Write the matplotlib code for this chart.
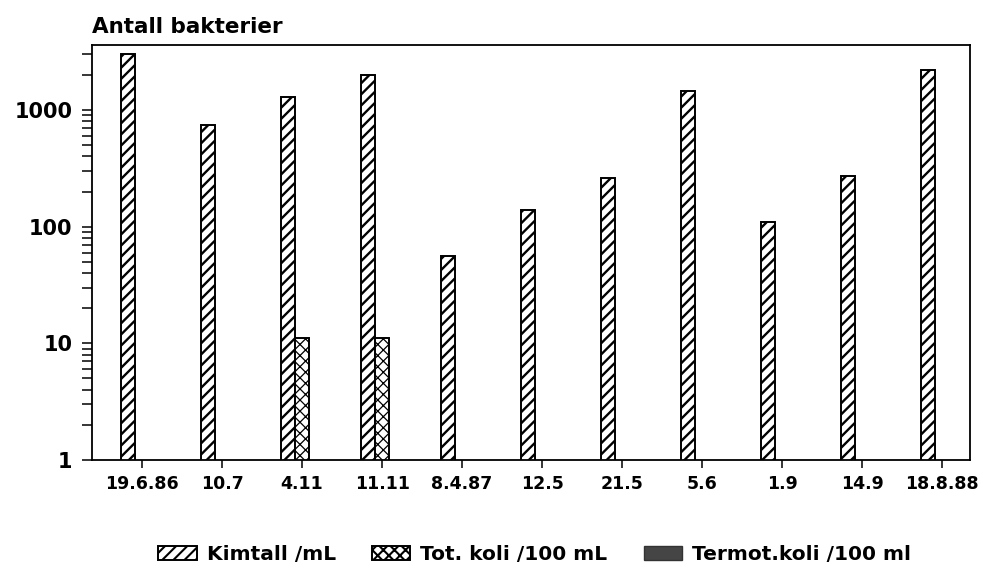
import numpy as np
import matplotlib.pyplot as plt
from matplotlib.ticker import FixedLocator, FuncFormatter, LogLocator

# sampling dates
dates = ["19.6.86", "10.7", "4.11", "11.11", "8.4.87", "12.5",
         "21.5", "5.6", "1.9", "14.9", "18.8.88"]

# bacteria counts
kimtall = [3000, 750, 1300, 2000, 56, 140, 260, 1450, 110, 270, 2200]
tot_koli = [0, 0, 11, 11, 0, 0, 0, 0, 0, 0, 0]
termot_koli = [0, 0, 0, 0, 0, 0, 0, 0, 0, 0, 0]

plt.rcParams['font.family'] = ['DejaVu Sans']
plt.rcParams['font.weight'] = 'bold'

fig = plt.figure(figsize=(9.83, 5.72), dpi=100)
ax = fig.add_axes([0.0936, 0.196, 0.8934, 0.725])

x = np.arange(len(dates))
w = 0.175


def nz(vals):
    a = np.array(vals, dtype=float)
    return np.where(a > 0, a, np.nan)


plt.rcParams['hatch.linewidth'] = 1.7
ax.bar(x - w, nz(kimtall), w, facecolor='white', edgecolor='black',
       hatch='///', linewidth=1.4, label='Kimtall /mL')
plt.rcParams['hatch.linewidth'] = 0.9
ax.bar(x, nz(tot_koli), w, facecolor='white', edgecolor='black',
       hatch='xxx', linewidth=1.4, label='Tot. koli /100 mL')
ax.bar(x + w, nz(termot_koli), w, facecolor='#454545', edgecolor='#333333',
       linewidth=1.0, label='Termot.koli /100 ml')

ax.set_yscale('log')
ax.set_ylim(1, 3600)
ax.set_xlim(-0.625, 10.35)

ax.yaxis.set_major_locator(FixedLocator([1, 10, 100, 1000]))
ax.yaxis.set_minor_locator(LogLocator(base=10, subs=np.arange(2, 10)))
ax.yaxis.set_major_formatter(FuncFormatter(lambda v, p: f"{int(v)}"))
ax.yaxis.set_minor_formatter(FuncFormatter(lambda v, p: ""))

ax.set_xticks(x)
ax.set_xticklabels(dates, fontsize=12.5, fontweight='bold')
for lab in ax.get_yticklabels():
    lab.set_fontsize(15)
    lab.set_fontweight('bold')

ax.tick_params(axis='y', which='both', direction='out', length=7, width=1.1, pad=7)
ax.tick_params(axis='x', direction='out', length=6, width=1.1, pad=5)

for s in ax.spines.values():
    s.set_linewidth(1.3)

ax.set_title("Antall bakterier", loc='left', fontsize=15.5, fontweight='bold', pad=9)

# legend handles pick up the current hatch width
plt.rcParams['hatch.linewidth'] = 1.5
fig.legend(loc='center', bbox_to_anchor=(0.544, 0.03), ncol=3, frameon=False,
           prop={'size': 14.5, 'weight': 'bold'}, handlelength=1.9,
           handleheight=0.7, handletextpad=0.5, columnspacing=1.8,
           borderpad=0.2)

fig.savefig("out.png", dpi=100)
